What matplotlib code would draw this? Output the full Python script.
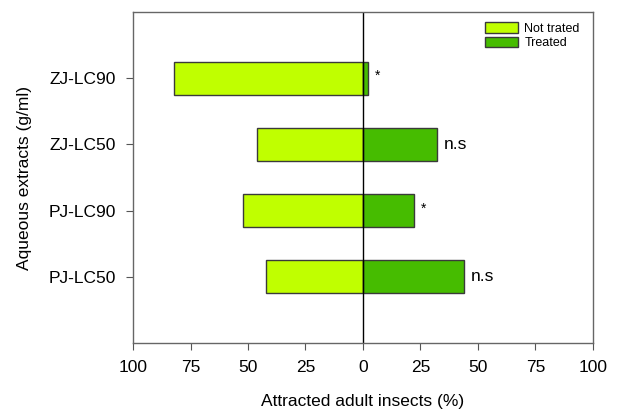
import matplotlib.pyplot as plt
import numpy as np

plt.rcParams["font.family"] = ["Liberation Sans", "DejaVu Sans"]

extracts = ["PJ-LC50", "PJ-LC90", "ZJ-LC50", "ZJ-LC90"]
not_treated = [42, 52, 46, 82]
treated = [44, 22, 32, 2]
signif = ["n.s", "*", "n.s", "*"]
ticks = [-100, -75, -50, -25, 0, 25, 50, 75, 100]
tick_labels = ["100", "75", "50", "25", "0", "25", "50", "75", "100"]

fig = plt.figure(figsize=(6.17, 4.2), dpi=100)
ax = fig.add_axes([0.2156, 0.1833, 0.7454, 0.7881])

ypos = np.arange(1, len(extracts) + 1)
edge = "#3a3a3a"
ax.barh(ypos, -np.array(not_treated), height=0.5, color="#c0ff00",
        edgecolor=edge, linewidth=1.0, label="Not trated")
ax.barh(ypos, treated, height=0.5, color="#46bc00",
        edgecolor=edge, linewidth=1.0, label="Treated")
ax.axvline(0, color="k", linewidth=1.0)

for y, v, s in zip(ypos, treated, signif):
    if s == "*":
        ax.text(v + 3, y + 0.03, s, ha="left", va="center", fontsize=10)
    else:
        ax.text(v + 3, y, s, ha="left", va="center", fontsize=12.5)

ax.set_xlim(-100, 100)
ax.set_ylim(0, 5)
ax.set_xticks(ticks)
ax.set_xticklabels(tick_labels, fontsize=12.5)
ax.set_yticks(ypos)
ax.set_yticklabels(extracts, fontsize=12.5)
ax.tick_params(direction="out", length=5, color="#555555", pad=7)
for sp in ax.spines.values():
    sp.set_color("#666666")
    sp.set_linewidth(1.0)

ax.set_xlabel("Attracted adult insects (%)", fontsize=12.5, labelpad=14)
ax.set_ylabel("Aqueous extracts (g/ml)", fontsize=12.5, labelpad=12)

ax.legend(loc="upper right", fontsize=9, frameon=False, handlelength=2.6,
          handleheight=0.9, labelspacing=0.15, handletextpad=0.5,
          borderaxespad=0.3, bbox_to_anchor=(0.99, 0.995))

fig.savefig("out.png", dpi=100)
